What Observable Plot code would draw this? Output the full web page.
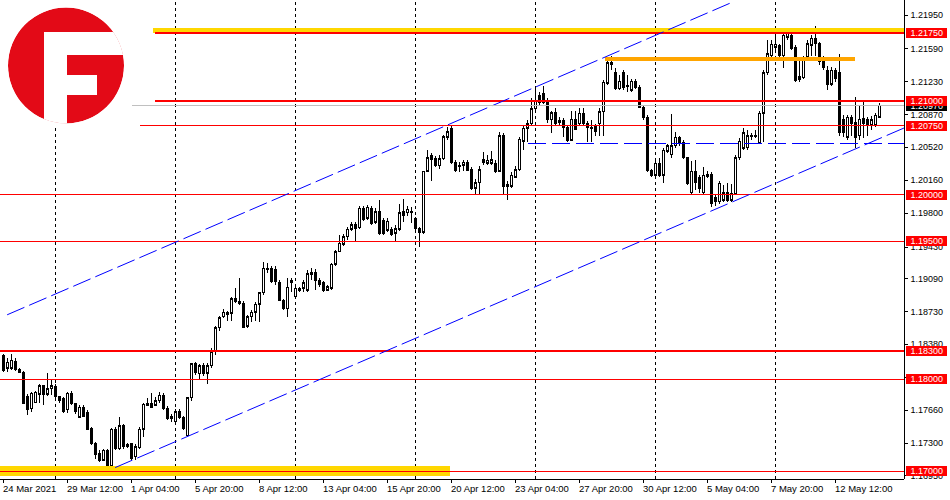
<!DOCTYPE html>
<html><head><meta charset="utf-8">
<script src="https://cdn.jsdelivr.net/npm/d3@7"></script>
<script src="https://cdn.jsdelivr.net/npm/@observablehq/plot@0.6"></script>
<style>
html,body{margin:0;padding:0;background:#fff;}
#wrap{position:relative;width:950px;height:500px;overflow:hidden;background:#fff;}
#logo{position:absolute;left:0;top:0;}
</style></head><body>
<div id="wrap"></div>
<script>
// ---- candle data (H4 bars, index 0 = 24 Mar 2021 20:00) ----
const open = [1.1825,1.1811,1.1811,1.1819,1.1810,1.1807,1.1781,1.1767,1.1774,1.1783,1.1792,1.1783,1.1789,1.1791,1.1780,1.1778,1.1766,1.1784,1.1773,1.1758,
1.1769,1.1763,1.1746,1.1730,1.1719,1.1711,1.1722,1.1705,1.1745,1.1724,1.1749,1.1728,1.1729,1.1715,1.1725,1.1745,1.1771,1.1773,1.1771,1.1776,
1.1782,1.1768,1.1759,1.1753,1.1764,1.1758,1.1738,1.1779,1.1816,1.1805,1.1814,1.1806,1.1814,1.1829,1.1855,1.1867,1.1872,1.1871,1.1887,1.1884,
1.1882,1.1857,1.1867,1.1872,1.1881,1.1893,1.1918,1.1920,1.1919,1.1904,1.1885,1.1876,1.1907,1.1889,1.1896,1.1898,1.1896,1.1915,1.1915,1.1907,
1.1904,1.1896,1.1898,1.1924,1.1938,1.1946,1.1954,1.1962,1.1967,1.1964,1.1985,1.1974,1.1985,1.1970,1.1981,1.1972,1.1961,1.1962,1.1958,1.1962,
1.1981,1.1980,1.1982,1.1974,1.1963,1.1959,1.2025,1.2042,1.2039,1.2031,1.2039,1.2062,1.2072,1.2035,1.2032,1.2032,1.2035,1.2027,1.2007,1.2013,
1.2038,1.2034,1.2034,1.2034,1.2025,1.2064,1.2009,1.2009,1.2019,1.2027,1.2058,1.2072,1.2077,1.2093,1.2108,1.2110,1.2100,1.2081,1.2089,1.2080,
1.2080,1.2073,1.2059,1.2082,1.2077,1.2088,1.2077,1.2073,1.2074,1.2077,1.2090,1.2121,1.2143,1.2133,1.2115,1.2133,1.2118,1.2113,1.2123,1.2116,
1.2095,1.2084,1.2026,1.2021,1.2034,1.2021,1.2047,1.2043,1.2053,1.2062,1.2056,1.2040,1.2002,1.2025,1.2018,1.2002,1.2022,1.2022,1.1997,1.1992,
1.1994,1.2002,1.1994,1.2001,1.2040,1.2050,1.2051,1.2064,1.2063,1.2056,1.2088,1.2132,1.2151,1.2160,1.2162,1.2151,1.2171,1.2173,1.2160,1.2125,
1.2127,1.2149,1.2162,1.2170,1.2164,1.2148,1.2135,1.2120,1.2135,1.2132,1.2081,1.2062,1.2084,1.2078,1.2064,1.2083,1.2081,1.2076,1.2075,1.2084];
const high = [1.1827,1.1822,1.1827,1.1822,1.1812,1.1808,1.1783,1.1785,1.1787,1.1794,1.1793,1.1806,1.1798,1.1794,1.1781,1.1780,1.1785,1.1787,1.1774,1.1771,
1.1771,1.1766,1.1747,1.1731,1.1722,1.1724,1.1723,1.1746,1.1747,1.1758,1.1751,1.1730,1.1730,1.1729,1.1747,1.1774,1.1779,1.1784,1.1780,1.1785,
1.1784,1.1770,1.1761,1.1767,1.1767,1.1759,1.1780,1.1817,1.1818,1.1816,1.1817,1.1817,1.1833,1.1857,1.1868,1.1876,1.1873,1.1889,1.1898,1.1909,
1.1884,1.1869,1.1874,1.1883,1.1894,1.1927,1.1926,1.1922,1.1922,1.1907,1.1887,1.1909,1.1909,1.1902,1.1900,1.1907,1.1918,1.1920,1.1919,1.1909,
1.1906,1.1902,1.1926,1.1940,1.1956,1.1957,1.1965,1.1970,1.1970,1.1988,1.1988,1.1989,1.1987,1.1985,1.1994,1.1974,1.1974,1.1965,1.1967,1.1990,
1.1995,1.1987,1.1986,1.1976,1.1965,1.2026,1.2048,1.2045,1.2042,1.2043,1.2065,1.2073,1.2075,1.2037,1.2035,1.2037,1.2037,1.2030,1.2017,1.2031,
1.2046,1.2043,1.2047,1.2037,1.2068,1.2067,1.2015,1.2024,1.2031,1.2063,1.2075,1.2081,1.2105,1.2116,1.2111,1.2118,1.2105,1.2091,1.2094,1.2084,
1.2083,1.2075,1.2091,1.2091,1.2094,1.2094,1.2080,1.2081,1.2077,1.2094,1.2124,1.2145,1.2151,1.2137,1.2130,1.2135,1.2130,1.2126,1.2126,1.2119,
1.2097,1.2086,1.2028,1.2037,1.2040,1.2050,1.2055,1.2087,1.2068,1.2064,1.2059,1.2041,1.2036,1.2037,1.2021,1.2030,1.2026,1.2024,1.1999,1.2015,
1.2010,1.2012,1.2011,1.2043,1.2061,1.2072,1.2070,1.2067,1.2070,1.2091,1.2135,1.2168,1.2168,1.2175,1.2164,1.2176,1.2178,1.2177,1.2162,1.2146,
1.2151,1.2168,1.2173,1.2183,1.2166,1.2150,1.2140,1.2139,1.2137,1.2153,1.2086,1.2086,1.2086,1.2106,1.2097,1.2100,1.2084,1.2085,1.2088,1.2099];
const low = [1.1807,1.1807,1.1809,1.1808,1.1806,1.1772,1.1760,1.1764,1.1773,1.1773,1.1771,1.1781,1.1782,1.1779,1.1774,1.1763,1.1763,1.1771,1.1762,1.1757,
1.1758,1.1744,1.1728,1.1713,1.1709,1.1710,1.1703,1.1703,1.1722,1.1722,1.1724,1.1725,1.1711,1.1712,1.1723,1.1736,1.1770,1.1768,1.1770,1.1774,
1.1766,1.1755,1.1753,1.1750,1.1756,1.1744,1.1736,1.1776,1.1804,1.1800,1.1803,1.1794,1.1812,1.1826,1.1852,1.1866,1.1863,1.1863,1.1882,1.1880,
1.1855,1.1855,1.1861,1.1863,1.1862,1.1891,1.1915,1.1904,1.1902,1.1884,1.1874,1.1867,1.1894,1.1887,1.1894,1.1894,1.1894,1.1907,1.1896,1.1900,
1.1894,1.1895,1.1896,1.1922,1.1937,1.1944,1.1951,1.1960,1.1950,1.1962,1.1971,1.1972,1.1967,1.1968,1.1956,1.1956,1.1959,1.1955,1.1950,1.1960,
1.1970,1.1977,1.1969,1.1961,1.1943,1.1957,1.2024,1.2015,1.2030,1.2028,1.2037,1.2059,1.2033,1.2024,1.2024,1.2025,1.2025,1.2005,1.1999,1.1999,
1.2032,1.2032,1.2032,1.2023,1.2024,1.1999,1.1994,1.2007,1.2018,1.2025,1.2048,1.2057,1.2075,1.2090,1.2097,1.2098,1.2078,1.2067,1.2075,1.2076,
1.2062,1.2057,1.2058,1.2070,1.2075,1.2076,1.2057,1.2057,1.2064,1.2064,1.2064,1.2119,1.2135,1.2113,1.2113,1.2114,1.2111,1.2111,1.2115,1.2094,
1.2081,1.2024,1.2019,1.2018,1.2019,1.2012,1.2045,1.2040,1.2051,1.2053,1.2039,1.2010,1.1999,1.2005,1.2002,1.2001,1.2018,1.1986,1.1988,1.1990,
1.1992,1.1992,1.1992,1.1999,1.2038,1.2048,1.2048,1.2059,1.2061,1.2056,1.2057,1.2130,1.2149,1.2157,1.2149,1.2137,1.2168,1.2157,1.2122,1.2122,
1.2126,1.2145,1.2151,1.2150,1.2141,1.2135,1.2114,1.2118,1.2122,1.2064,1.2062,1.2059,1.2064,1.2051,1.2059,1.2061,1.2064,1.2070,1.2073,1.2083];
const close = [1.1809,1.1818,1.1820,1.1810,1.1807,1.1773,1.1766,1.1784,1.1785,1.1792,1.1783,1.1789,1.1792,1.1780,1.1776,1.1764,1.1784,1.1773,1.1764,1.1769,
1.1759,1.1745,1.1730,1.1717,1.1711,1.1722,1.1704,1.1745,1.1724,1.1749,1.1726,1.1726,1.1713,1.1726,1.1745,1.1772,1.1773,1.1769,1.1776,1.1782,
1.1768,1.1757,1.1757,1.1764,1.1758,1.1746,1.1779,1.1816,1.1807,1.1814,1.1805,1.1814,1.1829,1.1855,1.1866,1.1872,1.1870,1.1887,1.1884,1.1882,
1.1856,1.1867,1.1872,1.1881,1.1893,1.1920,1.1920,1.1905,1.1905,1.1885,1.1876,1.1899,1.1904,1.1898,1.1898,1.1904,1.1914,1.1913,1.1907,1.1902,
1.1896,1.1900,1.1924,1.1938,1.1947,1.1954,1.1962,1.1967,1.1963,1.1985,1.1973,1.1986,1.1969,1.1981,1.1958,1.1958,1.1971,1.1957,1.1963,1.1980,
1.1977,1.1984,1.1980,1.1963,1.1959,1.2025,1.2040,1.2038,1.2032,1.2039,1.2063,1.2068,1.2035,1.2026,1.2030,1.2035,1.2026,1.2007,1.2013,1.2027,
1.2035,1.2037,1.2038,1.2025,1.2064,1.2009,1.2011,1.2021,1.2027,1.2060,1.2072,1.2077,1.2093,1.2102,1.2100,1.2100,1.2081,1.2089,1.2077,1.2078,
1.2073,1.2059,1.2082,1.2071,1.2088,1.2077,1.2073,1.2072,1.2068,1.2090,1.2122,1.2143,1.2141,1.2115,1.2123,1.2116,1.2117,1.2123,1.2116,1.2095,
1.2084,1.2026,1.2021,1.2034,1.2021,1.2048,1.2053,1.2053,1.2062,1.2056,1.2040,1.2012,1.2025,1.2013,1.2007,1.2021,1.2020,1.1990,1.1992,1.2012,
1.2002,1.1994,1.2001,1.2040,1.2058,1.2067,1.2064,1.2063,1.2064,1.2088,1.2132,1.2153,1.2163,1.2163,1.2151,1.2173,1.2175,1.2159,1.2124,1.2128,
1.2149,1.2164,1.2170,1.2164,1.2144,1.2138,1.2120,1.2135,1.2126,1.2067,1.2067,1.2084,1.2077,1.2062,1.2082,1.2077,1.2075,1.2081,1.2086,1.2097];

// ---- time axis ----
const timeTickIndex = [0,16,32,48,64,80,96,112,128,144,160,176,192,208];
const timeTickLabels = ["24 Mar 2021","29 Mar 12:00","1 Apr 04:00","5 Apr 20:00","8 Apr 12:00","13 Apr 04:00","15 Apr 20:00","20 Apr 12:00","23 Apr 04:00","27 Apr 20:00","30 Apr 12:00","5 May 04:00","7 May 20:00","12 May 12:00"];
const weekSeparatorIndex = [13,43,73,103,133,163,193];

// ---- price axis ----
const priceTicks = [1.21950,1.21590,1.21230,1.20870,1.20520,1.20160,1.19800,1.19430,1.19090,1.18730,1.18380,1.18020,1.17660,1.17300,1.16950];

// ---- horizontal levels (price, start bar index) ----
const thickLevels = [1.21763, 1.21018, 1.18300];
const thickLevelStart = [38, 38, -0.75];
const thinLevels = [1.20750, 1.20000, 1.19500, 1.18000, 1.17000];
const thinLevelStart = [34.25, -0.75, -0.75, -0.75, -0.75];
const levelLabelPrices = [1.21763, 1.21018, 1.20750, 1.20000, 1.19500, 1.18300, 1.18000, 1.17000];
const levelLabelTexts = ["1.21750","1.21000","1.20750","1.20000","1.19500","1.18300","1.18000","1.17000"];

// zones
const goldZonePrice = [1.21783, 1.17000];
const goldZoneFrom = [37.5, -0.75];
const goldZoneTo = [225.25, 111.75];
const orangeLevel = 1.21473, orangeFrom = 150.5, orangeTo = 213;
const supportDash = 1.20557, supportDashFrom = 131.25;

// channel (trend lines): [bar index, price]
const channelUpper = [[1, 1.18700], [182.5, 1.22100]];
const channelLower = [[28, 1.17040], [225.25, 1.20730]];

const N = open.length;
const bars = d3.range(N).map(i => ({i, o: open[i], h: high[i], l: low[i], c: close[i]}));
const xDom = [-0.75, 225.25];
const yDom = [1.16909, 1.22113];
const plotH = 479;
const px = (yDom[1] - yDom[0]) / plotH;
const bid = close[N - 1];

const upBars = bars.filter(d => d.c > d.o);

const RED = "#ff0000", BLUE = "#0000ff";
const crisp = {shapeRendering: "crispEdges"};

const chart = Plot.plot({
  width: 950, height: 500,
  marginLeft: 0, marginRight: 46, marginTop: 0, marginBottom: 21,
  x: {domain: xDom, axis: null},
  y: {domain: yDom, axis: null},
  style: {fontFamily: "'Liberation Sans', Arial, sans-serif", fontSize: "9px", background: "#fff", overflow: "visible"},
  marks: [
    Plot.ruleX(weekSeparatorIndex, {x: d => d, y1: yDom[0], y2: yDom[1], stroke: "#000", strokeDasharray: "3,3", ...crisp}),
    // wicks
    Plot.ruleX(bars, {x: "i", y1: "h", y2: "l", stroke: "#000", ...crisp}),
    // bodies
    Plot.ruleX(bars, {x: "i", y1: d => Math.max(d.o, d.c), y2: d => Math.min(d.o, d.c), stroke: "#000", strokeWidth: 3, insetTop: -0.5, insetBottom: -0.5, ...crisp}),
    Plot.ruleX(upBars.filter(d => d.c - d.o > 2.5 * px), {x: "i", y1: "c", y2: "o", stroke: "#fff", strokeWidth: 1, insetTop: 1, insetBottom: 1, ...crisp}),
    // gold zones
    Plot.ruleY(goldZonePrice, {y: d => d, x1: (d, i) => goldZoneFrom[i], x2: (d, i) => goldZoneTo[i], stroke: "#ffd700", strokeWidth: (d, i) => i === 0 ? 5 : 10, ...crisp}),
    // orange
    Plot.ruleY([orangeLevel], {y: d => d, x1: orangeFrom, x2: orangeTo, stroke: "#ffa500", strokeWidth: 4, ...crisp}),
    // red levels
    Plot.ruleY(thinLevels, {y: d => d, x1: (d, i) => thinLevelStart[i], x2: xDom[1], stroke: RED, strokeWidth: 1, ...crisp}),
    Plot.ruleY(thickLevels, {y: d => d, x1: (d, i) => thickLevelStart[i], x2: xDom[1], stroke: RED, strokeWidth: 2, ...crisp}),
    // blue support dashed
    Plot.ruleY([supportDash], {y: d => d, x1: supportDashFrom, x2: xDom[1], stroke: BLUE, strokeDasharray: "18,6", ...crisp}),
    // channel
    Plot.line(channelUpper, {x: d => d[0], y: d => d[1], stroke: BLUE, strokeWidth: 1, strokeDasharray: "18,6"}),
    Plot.line(channelLower, {x: d => d[0], y: d => d[1], stroke: BLUE, strokeWidth: 1, strokeDasharray: "18,6"}),
    // bid line
    Plot.ruleY([bid], {y: d => d, x1: xDom[0], x2: xDom[1], stroke: "#c0c0c0", ...crisp}),
    // frame
    Plot.ruleX([xDom[1]], {x: d => d, y1: yDom[0], y2: yDom[1], stroke: "#000", ...crisp}),
    Plot.ruleY([yDom[0]], {y: d => d, x1: xDom[0], x2: xDom[1], stroke: "#000", ...crisp}),
    // price ticks
    Plot.ruleY(priceTicks, {y: d => d, x1: xDom[1], x2: xDom[1] + 1, stroke: "#000", ...crisp}),
    Plot.text(priceTicks, {x: xDom[1], y: d => d, text: d => d.toFixed(5), dx: 6, textAnchor: "start", fill: "#000"}),
    // bid label
    Plot.ruleY([bid], {y: d => d, x1: xDom[1] + 0.5, x2: xDom[1] + 10.75, stroke: "#000", strokeWidth: 10, ...crisp}),
    Plot.text([bid], {x: xDom[1], y: d => d, text: d => d.toFixed(5), dx: 6, textAnchor: "start", fill: "#fff"}),
    // red level labels
    Plot.ruleY(levelLabelPrices, {y: d => d, x1: xDom[1] + 0.5, x2: xDom[1] + 10.75, stroke: RED, strokeWidth: 10, ...crisp}),
    Plot.text(levelLabelPrices, {x: xDom[1], y: d => d, text: (d, i) => levelLabelTexts[i], dx: 6, textAnchor: "start", fill: "#fff"}),
    // time ticks
    Plot.ruleX(timeTickIndex, {x: d => d, y1: yDom[0], y2: yDom[0] - 4 * px, stroke: "#000", ...crisp}),
    Plot.text(timeTickIndex, {x: d => d, y: yDom[0], text: (d, i) => timeTickLabels[i], dy: 9, dx: -0.5, textAnchor: "start", fill: "#000", fontSize: 9.5})
  ]
});
document.getElementById("wrap").appendChild(chart);

// logo (picture overlay with its own white backdrop)
const logo = d3.select("#wrap").append("svg").attr("id", "logo").attr("width", 132).attr("height", 128);
logo.append("rect").attr("width", 132).attr("height", 128).attr("fill", "#fff");
logo.append("clipPath").attr("id", "lc").append("circle").attr("cx", 66).attr("cy", 65.5).attr("r", 58);
const lg = logo.append("g").attr("clip-path", "url(#lc)");
lg.append("circle").attr("cx", 66).attr("cy", 65.5).attr("r", 58).attr("fill", "#e30a17");
lg.append("rect").attr("x", 44).attr("y", 32).attr("width", 23).attr("height", 100).attr("fill", "#fff");
lg.append("rect").attr("x", 44).attr("y", 32).attr("width", 90).attr("height", 23).attr("fill", "#fff");
lg.append("rect").attr("x", 66).attr("y", 75).attr("width", 31).attr("height", 20).attr("fill", "#fff");
</script>
</body></html>
